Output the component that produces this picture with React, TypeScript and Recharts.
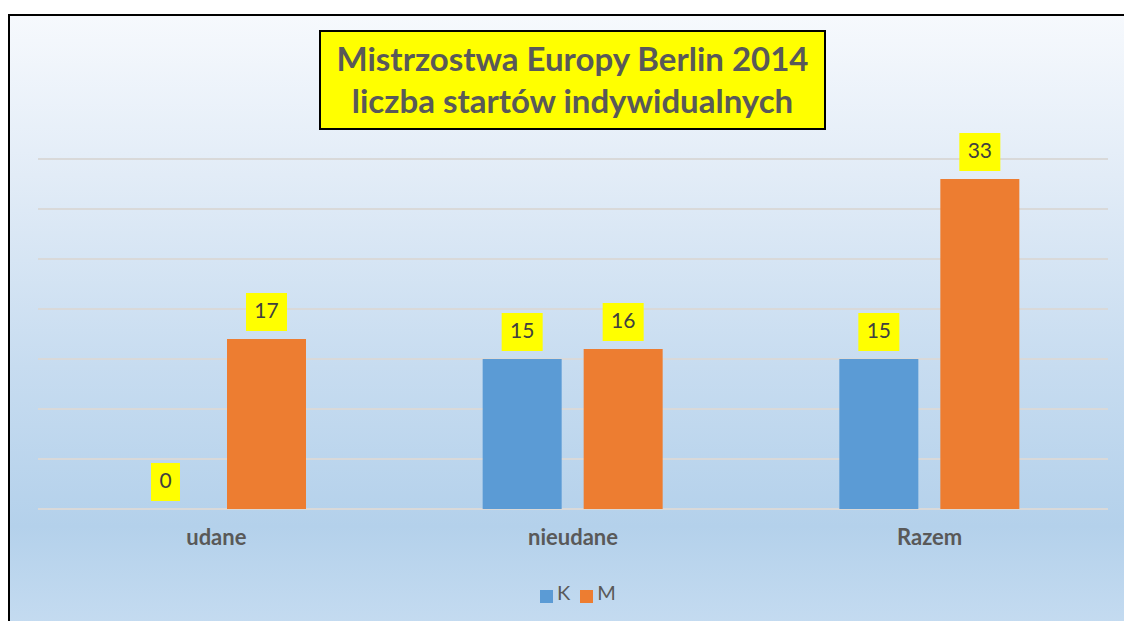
import { BarChart, Bar, XAxis, YAxis, CartesianGrid, Legend, LabelList } from "recharts";

const categories = ["udane", "nieudane", "Razem"];
const seriesK = [0, 15, 15];
const seriesM = [17, 16, 33];
const yTicks = [0, 5, 10, 15, 20, 25, 30, 35];

const data = categories.map((name, i) => ({ name, K: seriesK[i], M: seriesM[i] }));

const FONT = "Lato, 'Open Sans', sans-serif";

// zero-valued bars get a hairline height so that their label is still drawn
const keepZero = (v: any) => (Number(Array.isArray(v) ? v[1] : v) === 0 ? 0.01 : 0);

// żółta etykieta nad słupkiem
function ValueBox(props: any) {
  const { x, y, width, height, value } = props;
  const v = Array.isArray(value) ? value[1] : value;
  const cx = Number(x) + Number(width) / 2;
  const top0 = Math.min(Number(y), Number(y) + Number(height || 0));
  const w = String(v).length > 1 ? 41 : 29;
  const h = 38;
  const top = top0 - 8 - h;
  return (
    <g>
      <rect x={cx - w / 2} y={top} width={w} height={h} fill="#ffff00" />
      <text
        x={cx}
        y={top + h / 2 + 1}
        textAnchor="middle"
        dominantBaseline="middle"
        fontSize={21}
        fontFamily={FONT}
        fill="#404040"
      >
        {v}
      </text>
    </g>
  );
}

function CategoryTick(props: any) {
  const { x, y, payload } = props;
  return (
    <text
      x={x}
      y={y + 22}
      textAnchor="middle"
      dominantBaseline="middle"
      fontSize={22}
      fontWeight="bold"
      fontFamily={FONT}
      fill="#595959"
    >
      {payload.value}
    </text>
  );
}

export default function App() {
  return (
    <>
      <style>{"body{margin:0;overflow:hidden}"}</style>
      <div style={{ position: "absolute", left: 8, top: 14, width: 1116, height: 607, overflow: "hidden" }}>
        <div
          style={{
            position: "absolute",
            left: 0,
            top: 0,
            width: 1140,
            height: 640,
            borderTop: "2px solid #000",
            borderLeft: "2px solid #000",
            boxSizing: "border-box",
            background:
              "linear-gradient(to bottom, #f6f9fd 0%, #e2ecf7 25%, #c7dcf0 55%, #b4d1eb 80%, #c9def2 100%)",
          }}
        />
        <div
          style={{
            position: "absolute",
            left: 311,
            top: 16,
            width: 507,
            height: 100,
            boxSizing: "border-box",
            border: "2px solid #000",
            background: "#ffff00",
            color: "#595959",
            fontFamily: FONT,
            fontWeight: "bold",
            fontSize: 33,
            lineHeight: "42px",
            textAlign: "center",
            paddingTop: 5,
            whiteSpace: "nowrap",
          }}
        >
          Mistrzostwa Europy Berlin 2014
          <br />
          liczba startów indywidualnych
        </div>
        <div style={{ position: "absolute", left: 0, top: 0 }}>
          <BarChart
            width={1116}
            height={607}
            data={data}
            margin={{ top: 145, right: 16, bottom: 17, left: 30 }}
            barSize={79}
            barGap={22}
          >
            <CartesianGrid vertical={false} stroke="#d9d9d9" strokeWidth={2} />
            <YAxis hide domain={[0, 35]} ticks={yTicks} />
            <XAxis
              dataKey="name"
              axisLine={false}
              tickLine={false}
              height={71}
              tick={<CategoryTick />}
              interval={0}
            />
            <Legend
              verticalAlign="bottom"
              height={24}
              iconType="square"
              iconSize={13}
              wrapperStyle={{ paddingLeft: 10 }}
              formatter={(v: string) => (
                <span style={{ color: "#595959", fontSize: 20, fontFamily: FONT }}>{v}</span>
              )}
            />
            <Bar dataKey="K" fill="#5b9bd5" isAnimationActive={false} minPointSize={keepZero}>
              <LabelList dataKey="K" content={<ValueBox />} />
            </Bar>
            <Bar dataKey="M" fill="#ed7d31" isAnimationActive={false}>
              <LabelList dataKey="M" content={<ValueBox />} />
            </Bar>
          </BarChart>
        </div>
      </div>
    </>
  );
}
